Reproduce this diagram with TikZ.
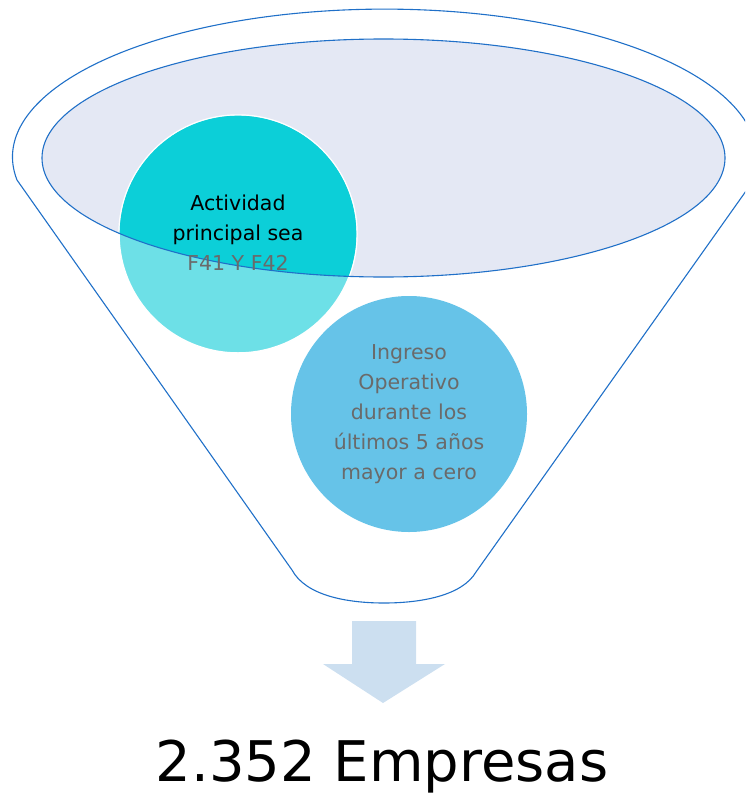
\documentclass[tikz,border=0pt]{standalone}
\usepackage{fontspec}
\setmainfont{DejaVu Sans}
\definecolor{lineblue}{HTML}{2070C8}
\definecolor{ellfill}{HTML}{E4E8F4}
\definecolor{tealdark}{HTML}{0CCFD8}
\definecolor{teallight}{HTML}{6DE0E7}
\definecolor{skyc}{HTML}{66C3E8}
\definecolor{arrowc}{HTML}{CCDFF0}
\definecolor{graytxt}{HTML}{6A6A6A}
\tikzset{
  outline/.style={draw=lineblue, line width=1.1pt},
  bubble/.style={circle, minimum size=238pt, inner sep=0pt, align=center,
    font=\fontsize{20.5}{30}\selectfont},
}
\begin{document}
\begin{tikzpicture}[x=1pt,y=-1pt]
\useasboundingbox (0,0) rectangle (745,795);
\clip (0,0) rectangle (745,795);
% funnel outline
\draw[outline] (17,180) arc[start angle=188.9, end angle=-11.7, x radius=372pt, y radius=148pt]
  -- (476,572) .. controls (462,596) and (420,603) .. (384,603)
  .. controls (348,603) and (306,596) .. (292,570) -- cycle;
% inner ellipse fill
\fill[ellfill] (383.5,158) ellipse [x radius=341.5pt, y radius=119pt];
% circle 1
\fill[teallight, draw=white, line width=1.5pt] (238,234) circle [radius=119pt];
\begin{scope}
  \clip (383.5,158) ellipse [x radius=341.5pt, y radius=119pt];
  \fill[tealdark] (238,234) circle [radius=118.3pt];
\end{scope}
% inner ellipse outline
\draw[outline] (383.5,158) ellipse [x radius=341.5pt, y radius=119pt];
\node[bubble, text=black] (c1) at (238,233) {Actividad\\principal sea\\\textcolor{graytxt}{F41 Y F42}};
% circle 2
\node[bubble, fill=skyc, text=graytxt, minimum size=236pt] (c2) at (409,414)
  {Ingreso\\Operativo\\durante los\\últimos 5 años\\mayor a cero};
% arrow
\fill[arrowc] (352,621) -- (416,621) -- (416,664) -- (445,664) -- (383,703)
  -- (323,664) -- (352,664) -- cycle;
% result
\node[anchor=base, font=\fontsize{56}{60}\selectfont, inner sep=0pt] (res) at (382,781) {2.352 Empresas};
\end{tikzpicture}
\end{document}
